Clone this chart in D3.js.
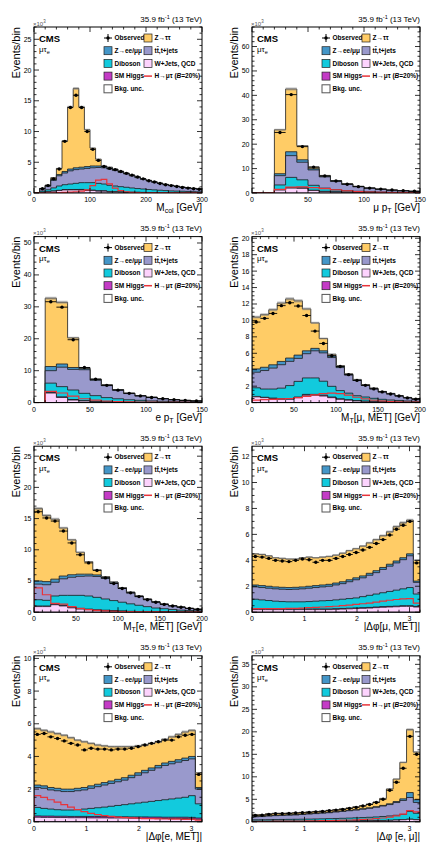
<!DOCTYPE html>
<html>
<head>
<meta charset="utf-8">
<script src="https://cdn.jsdelivr.net/npm/d3@7"></script>
<style>
  body { margin: 0; background: #fff; }
  svg text { font-family: "Liberation Sans", Arial, Helvetica, sans-serif; }
</style>
</head>
<body>
<div id="chart"></div>
<script>

// ---- values in units of 10^3 events / bin ----
// stack order (bottom -> top): W+jets/QCD, SM Higgs, Diboson, tt, Z->ee/mumu, Z->tautau

// M_col, 10 GeV bins 0-300
var mcolWJ  = [0,0.1,0.2,0.3,0.4,0.5,0.5,0.5,0.5,0.4,0.4,0.3,0.3,0.2,0.2,0.15,0.1,0.1,0.1,0.08,0.06,0.05,0.04,0.03,0.03,0.02,0.02,0.02,0.01,0.01];
var mcolH   = [0,0.01,0.02,0.03,0.04,0.05,0.06,0.07,0.08,0.08,0.08,0.07,0.06,0.05,0.04,0.03,0.03,0.02,0.02,0.02,0.01,0.01,0.01,0.01,0.01,0.01,0.01,0.01,0.01,0.01];
var mcolVV  = [0,0.2,0.3,0.5,0.7,0.8,0.9,1.0,1.1,1.2,1.2,1.2,1.1,1.0,0.9,0.85,0.8,0.7,0.6,0.55,0.5,0.45,0.4,0.35,0.3,0.28,0.25,0.22,0.2,0.18];
var mcolTT  = [0,0.34,0.58,1.22,1.66,1.9,2.14,2.23,2.22,2.32,2.42,2.58,2.64,2.65,2.51,2.32,2.17,1.98,1.78,1.57,1.41,1.23,1.1,0.96,0.87,0.75,0.64,0.57,0.51,0.43];
var mcolZll = [0,0.05,0.1,0.15,0.2,0.25,0.3,0.3,0.3,0.3,0.3,0.25,0.2,0.2,0.15,0.15,0.1,0.1,0.1,0.08,0.07,0.06,0.05,0.05,0.04,0.04,0.03,0.03,0.02,0.02];
var mcolZtt = [0,0.05,0.1,0.3,1.0,5.0,10.1,12.9,9.8,6.0,2.9,1.1,0.1,0.1,0.1,0.05,0.02,0,0,0,0,0,0,0,0,0,0,0,0,0];
var mcolObs = [0,0.7,1.2,2.3,3.9,8.4,13.9,15.9,13.9,10.0,7.1,5.3,4.3,4.0,3.8,3.5,3.2,2.9,2.6,2.3,2.0,1.8,1.55,1.35,1.2,1.05,0.9,0.8,0.7,0.6];
var mcolSig = [0,0,0,0.02,0.05,0.1,0.15,0.2,0.3,0.5,1.2,2.1,2.2,1.5,0.8,0.4,0.2,0.1,0.06,0.04,0.03,0.02,0.02,0.01,0.01,0.01,0.01,0.01,0.01,0.01];

// mu pT, 10 GeV bins 0-150
var muptWJ  = [0,0,1.2,2.0,1.9,1.0,0.6,0.4,0.3,0.2,0.15,0.1,0.08,0.06,0.05];
var muptH   = [0,0,0.1,0.2,0.2,0.15,0.1,0.08,0.06,0.05,0.04,0.03,0.02,0.02,0.01];
var muptVV  = [0,0,2.0,4.2,3.3,2.0,1.3,0.9,0.6,0.45,0.35,0.25,0.2,0.15,0.1];
var muptTT  = [0,0,3.8,8.9,7.2,6.3,4.6,3.4,2.6,1.9,1.4,1.1,0.8,0.7,0.5];
var muptZll = [0,0,0.8,1.6,1.0,0.5,0.3,0.2,0.14,0.1,0.06,0.05,0.04,0.03,0.02];
var muptZtt = [0,0,18.0,25.7,5.8,0.7,0.3,0.1,0.05,0.03,0.02,0.02,0.01,0.01,0.01];
var muptObs = [0,0,24.8,40.3,19.0,10.6,7.0,4.9,3.6,2.6,2.0,1.6,1.2,0.9,0.7];
var muptSig = [0,0,1.5,2.4,2.5,2.2,1.8,1.3,0.9,0.6,0.4,0.3,0.2,0.15,0.1];

// e pT, 10 GeV bins 0-150
var eptWJ  = [0,3.0,1.6,0.8,0.5,0.3,0.2,0.15,0.1,0.08,0.06,0.05,0.04,0.03,0.02];
var eptH   = [0,0.2,0.2,0.15,0.1,0.08,0.06,0.05,0.04,0.03,0.02,0.02,0.01,0.01,0.01];
var eptVV  = [0,2.9,3.2,3.0,2.3,1.8,1.3,1.0,0.75,0.6,0.45,0.35,0.25,0.2,0.15];
var eptTT  = [0,3.9,6.1,6.45,7.4,4.8,3.75,2.7,1.95,1.4,1.1,0.8,0.6,0.42,0.3];
var eptZll = [0,1.3,1.0,0.6,0.4,0.3,0.2,0.12,0.08,0.06,0.04,0.03,0.02,0.02,0.01];
var eptZtt = [0,21.4,19.3,9.3,0.3,0.1,0.1,0.05,0.03,0.02,0.02,0.02,0.02,0.02,0.02];
var eptObs = [0,31.6,29.9,19.7,11.0,7.3,5.4,3.9,2.9,2.1,1.6,1.2,0.9,0.7,0.5];
var eptSig = [0,3.5,3.0,2.0,1.2,0.8,0.5,0.35,0.25,0.18,0.12,0.08,0.06,0.04,0.03];

// MT[mu, MET], 10 GeV bins 0-200
var mtmuWJ  = [0.7,0.6,0.5,0.4,0.4,0.6,0.9,0.9,0.8,0.6,0.4,0.3,0.2,0.15,0.1,0.08,0.06,0.05,0.04,0.03];
var mtmuH   = [0.05,0.05,0.05,0.06,0.07,0.08,0.1,0.1,0.1,0.08,0.06,0.05,0.04,0.03,0.02,0.02,0.01,0.01,0.01,0.01];
var mtmuVV  = [1.05,1.0,1.1,1.3,1.6,1.9,2.0,2.0,1.7,1.3,1.0,0.8,0.6,0.5,0.4,0.3,0.25,0.2,0.15,0.12];
var mtmuTT  = [1.9,2.25,2.55,2.85,2.95,2.8,2.95,3.3,3.45,3.5,2.8,2.2,1.85,1.4,1.15,0.9,0.75,0.55,0.4,0.28];
var mtmuZll = [0.4,0.4,0.4,0.4,0.4,0.4,0.35,0.3,0.25,0.2,0.15,0.1,0.08,0.06,0.05,0.04,0.03,0.02,0.02,0.01];
var mtmuZtt = [6.3,6.4,6.7,7.1,7.2,6.6,5.1,3.1,1.5,0.2,0.1,0.05,0.05,0.05,0.05,0.02,0.02,0.02,0.01,0.01];
var mtmuObs = [9.8,10.25,10.85,11.8,12.15,11.75,10.6,8.7,7.2,5.7,4.4,3.4,2.7,2.1,1.67,1.3,1.05,0.8,0.57,0.4];
var mtmuSig = [0.3,0.35,0.4,0.45,0.5,0.6,0.75,0.95,1.1,1.15,1.1,0.9,0.65,0.45,0.3,0.2,0.15,0.1,0.07,0.05];

// MT[e, MET], 10 GeV bins 0-200
var mteWJ  = [0.9,0.9,1.2,1.0,0.7,0.5,0.4,0.3,0.25,0.2,0.15,0.1,0.08,0.06,0.05,0.04,0.03,0.02,0.02,0.01];
var mteH   = [0.1,0.1,0.1,0.1,0.1,0.1,0.1,0.08,0.07,0.06,0.05,0.04,0.03,0.03,0.02,0.02,0.01,0.01,0.01,0.01];
var mteVV  = [1.0,0.9,1.3,1.6,1.9,2.1,2.1,2.0,1.8,1.6,1.4,1.2,1.0,0.8,0.6,0.5,0.4,0.3,0.25,0.2];
var mteTT  = [2.5,2.5,2.2,2.65,2.9,3.05,3.2,3.35,3.3,2.8,2.2,1.75,1.4,1.15,0.95,0.7,0.58,0.47,0.32,0.24];
var mteZll = [0.5,0.5,0.5,0.45,0.4,0.35,0.3,0.25,0.2,0.15,0.12,0.1,0.08,0.06,0.05,0.04,0.03,0.02,0.02,0.01];
var mteZtt = [11.6,10.6,9.6,7.7,5.6,3.5,2.0,0.8,0.1,0.02,0.02,0.02,0.02,0.01,0.01,0.01,0.01,0.01,0.01,0.01];
var mteObs = [16.1,15.1,14.6,13.0,11.1,9.2,7.9,6.7,5.5,4.6,3.8,3.1,2.5,2.0,1.6,1.25,1.0,0.8,0.6,0.45];
var mteSig = [3.9,2.8,1.4,1.3,0.9,0.6,0.4,0.3,0.2,0.15,0.1,0.08,0.06,0.05,0.04,0.03,0.02,0.02,0.01,0.01];

// |dphi[mu, MET]|, 25 bins 0-3.2
var dphimuWJ  = [0.2,0.2,0.2,0.2,0.2,0.2,0.2,0.2,0.2,0.2,0.2,0.2,0.22,0.24,0.26,0.28,0.3,0.32,0.35,0.38,0.4,0.42,0.45,0.45,0.4];
var dphimuH   = [0.05,0.05,0.05,0.05,0.05,0.05,0.05,0.05,0.05,0.05,0.05,0.05,0.05,0.05,0.05,0.05,0.05,0.05,0.05,0.05,0.05,0.05,0.05,0.05,0.05];
var dphimuVV  = [0.75,0.7,0.65,0.6,0.57,0.55,0.55,0.55,0.57,0.6,0.63,0.65,0.68,0.71,0.74,0.77,0.85,0.93,1.0,1.07,1.15,1.23,1.3,1.4,0.95];
var dphimuTT  = [0.95,0.95,0.95,0.95,0.95,0.95,0.97,1.0,1.03,1.05,1.07,1.1,1.15,1.2,1.3,1.4,1.45,1.55,1.65,1.8,1.95,2.1,2.25,2.45,0.9];
var dphimuZll = [0.15,0.15,0.15,0.15,0.15,0.15,0.15,0.15,0.15,0.15,0.15,0.15,0.15,0.15,0.15,0.15,0.15,0.15,0.15,0.15,0.15,0.15,0.15,0.15,0.1];
var dphimuZtt = [2.4,2.4,2.35,2.25,2.23,2.2,2.18,2.25,2.25,2.15,2.15,2.15,2.15,2.2,2.25,2.25,2.3,2.35,2.4,2.45,2.5,2.65,2.7,2.6,1.6];
var dphimuObs = [4.3,4.25,4.15,4.0,3.95,3.9,4.0,4.1,4.05,3.85,4.0,4.0,4.15,4.3,4.45,4.6,4.8,5.0,5.3,5.6,5.95,6.4,6.7,7.0,3.8];
var dphimuSig = [0.28,0.28,0.28,0.28,0.28,0.3,0.3,0.32,0.35,0.37,0.4,0.43,0.46,0.5,0.55,0.6,0.65,0.7,0.78,0.85,0.92,0.98,1.03,1.05,0.7];

// |dphi[e, MET]|, 25 bins 0-3.2
var dphieWJ  = [0.28,0.27,0.27,0.26,0.26,0.25,0.25,0.25,0.24,0.24,0.24,0.23,0.23,0.23,0.22,0.22,0.22,0.21,0.21,0.2,0.2,0.2,0.2,0.19,0.15];
var dphieH   = [0.08,0.08,0.08,0.08,0.08,0.08,0.08,0.08,0.08,0.08,0.08,0.08,0.08,0.08,0.08,0.08,0.08,0.08,0.08,0.08,0.08,0.08,0.08,0.08,0.08];
var dphieVV  = [0.52,0.47,0.43,0.40,0.38,0.39,0.41,0.45,0.50,0.54,0.58,0.64,0.69,0.74,0.80,0.85,0.90,0.96,1.01,1.07,1.12,1.17,1.22,1.33,0.87];
var dphieTT  = [1.22,1.23,1.17,1.16,1.13,1.13,1.16,1.17,1.23,1.29,1.35,1.4,1.45,1.5,1.6,1.7,1.8,1.9,2.0,2.1,2.15,2.2,2.25,2.25,0.9];
var dphieZll = [0.15,0.15,0.15,0.15,0.15,0.15,0.15,0.15,0.15,0.15,0.15,0.15,0.15,0.15,0.15,0.15,0.15,0.15,0.15,0.15,0.15,0.15,0.15,0.15,0.1];
var dphieZtt = [3.45,3.4,3.4,3.35,3.3,3.15,2.95,2.8,2.6,2.4,2.25,2.1,2.0,1.9,1.75,1.65,1.55,1.5,1.45,1.45,1.5,1.55,1.6,1.6,0.9];
var dphieObs = [5.35,5.4,5.2,5.1,4.95,4.8,4.7,4.4,4.5,4.45,4.45,4.4,4.45,4.45,4.5,4.6,4.7,4.8,4.9,5.0,5.0,5.2,5.3,5.35,2.9];
var dphieSig = [1.6,1.5,1.35,1.2,1.05,0.9,0.75,0.62,0.52,0.44,0.38,0.33,0.29,0.26,0.24,0.22,0.2,0.19,0.18,0.17,0.16,0.16,0.15,0.15,0.1];

// |dphi[e, mu]|, 25 bins 0-3.2
var dphiemuWJ  = [0.1,0.1,0.1,0.1,0.1,0.1,0.1,0.1,0.1,0.12,0.12,0.13,0.14,0.15,0.16,0.18,0.2,0.22,0.25,0.28,0.32,0.38,0.45,0.55,0.45];
var dphiemuH   = [0.03,0.03,0.03,0.03,0.03,0.03,0.03,0.03,0.03,0.03,0.03,0.03,0.03,0.03,0.03,0.03,0.03,0.03,0.03,0.03,0.03,0.03,0.03,0.03,0.03];
var dphiemuVV  = [0.32,0.33,0.35,0.37,0.39,0.41,0.43,0.45,0.47,0.48,0.51,0.54,0.57,0.60,0.64,0.67,0.71,0.75,0.80,0.87,0.95,1.04,1.17,1.72,1.42];
var dphiemuTT  = [0.67,0.71,0.79,0.87,0.90,0.93,0.96,1.04,1.12,1.19,1.26,1.32,1.43,1.53,1.63,1.72,1.86,1.99,2.15,2.33,2.53,2.83,3.1,3.1,2.4];
var dphiemuZll = [0.08,0.08,0.08,0.08,0.08,0.08,0.08,0.08,0.08,0.08,0.08,0.08,0.08,0.09,0.09,0.1,0.1,0.11,0.12,0.14,0.17,0.22,0.35,1.1,0.6];
var dphiemuZtt = [0.4,0.35,0.45,0.45,0.4,0.4,0.4,0.4,0.4,0.4,0.4,0.45,0.45,0.5,0.55,0.65,0.7,0.85,1.05,1.55,3.3,5.0,8.1,14.0,10.6];
var dphiemuObs = [1.4,1.45,1.65,1.8,1.8,1.85,1.95,2.0,2.1,2.2,2.3,2.45,2.6,2.75,2.95,3.2,3.5,3.85,4.3,5.0,7.0,8.8,11.9,19.0,15.0];
var dphiemuSig = [0.1,0.1,0.12,0.13,0.14,0.15,0.16,0.18,0.2,0.22,0.25,0.28,0.32,0.36,0.4,0.45,0.52,0.6,0.7,0.85,1.05,1.3,1.7,2.5,2.2];

// tick labels
var yTicks25 = [0,5,10,15,20,25];
var yTicks60 = [0,10,20,30,40,50,60];
var yTicks50 = [0,10,20,30,40,50];
var yTicks20 = [0,2,4,6,8,10,12,14,16,18,20];
var yTicks12 = [0,2,4,6,8,10,12];
var yTicks10 = [0,2,4,6,8,10];
var yTicks35 = [0,5,10,15,20,25,30,35];
var xTicks300 = [0,100,200,300];
var xTicks150 = [0,50,100,150];
var xTicks200 = [0,50,100,150,200];
var xTicksPhi = [0,1,2,3];

var layerColors = ["#fcd3fd", "#c43bc6", "#12cadd", "#9999cc", "#4496c8", "#ffcc66"];
var sigColor = "#e8333a";

var fw = 168, fh = 166;

var panels = [
  { id: "mcol", lo: 0, hi: 300, nb: 30, xdom: [0, 300], xt: xTicks300, xminor: 20, ymax: 27, yt: yTicks25, yminor: 1,
    xlabel: [["M"], ["col", "sub"], [" [GeV]"]],
    layers: [mcolWJ, mcolH, mcolVV, mcolTT, mcolZll, mcolZtt], obs: mcolObs, sig: mcolSig },
  { id: "mupt", lo: 0, hi: 150, nb: 15, xdom: [0, 150], xt: xTicks150, xminor: 10, ymax: 68, yt: yTicks60, yminor: 2,
    xlabel: [["μ p"], ["T", "sub"], [" [GeV]"]],
    layers: [muptWJ, muptH, muptVV, muptTT, muptZll, muptZtt], obs: muptObs, sig: muptSig },
  { id: "ept", lo: 0, hi: 150, nb: 15, xdom: [0, 150], xt: xTicks150, xminor: 10, ymax: 52, yt: yTicks50, yminor: 2,
    xlabel: [["e p"], ["T", "sub"], [" [GeV]"]],
    layers: [eptWJ, eptH, eptVV, eptTT, eptZll, eptZtt], obs: eptObs, sig: eptSig },
  { id: "mtmu", lo: 0, hi: 200, nb: 20, xdom: [0, 200], xt: xTicks200, xminor: 10, ymax: 20.2, yt: yTicks20, yminor: 0.5,
    xlabel: [["M"], ["T", "sub"], ["[μ, MET] [GeV]"]],
    layers: [mtmuWJ, mtmuH, mtmuVV, mtmuTT, mtmuZll, mtmuZtt], obs: mtmuObs, sig: mtmuSig },
  { id: "mte", lo: 0, hi: 200, nb: 20, xdom: [0, 200], xt: xTicks200, xminor: 10, ymax: 26.6, yt: yTicks25, yminor: 1,
    xlabel: [["M"], ["T", "sub"], ["[e, MET] [GeV]"]],
    layers: [mteWJ, mteH, mteVV, mteTT, mteZll, mteZtt], obs: mteObs, sig: mteSig },
  { id: "dphimu", lo: 0, hi: 3.2, nb: 25, xdom: [0, 3.2], xt: xTicksPhi, xminor: 0.2, ymax: 12.8, yt: yTicks12, yminor: 0.5,
    xlabel: [["|Δφ[μ, MET]|"]],
    layers: [dphimuWJ, dphimuH, dphimuVV, dphimuTT, dphimuZll, dphimuZtt], obs: dphimuObs, sig: dphimuSig },
  { id: "dphie", lo: 0, hi: 3.2, nb: 25, xdom: [0, 3.2], xt: xTicksPhi, xminor: 0.2, ymax: 10.16, yt: yTicks10, yminor: 0.5,
    xlabel: [["|Δφ[e, MET]|"]],
    layers: [dphieWJ, dphieH, dphieVV, dphieTT, dphieZll, dphieZtt], obs: dphieObs, sig: dphieSig },
  { id: "dphiemu", lo: 0, hi: 3.2, nb: 25, xdom: [0, 3.2], xt: xTicksPhi, xminor: 0.2, ymax: 36.9, yt: yTicks35, yminor: 1,
    xlabel: [["|Δφ [e, μ]|"]],
    layers: [dphiemuWJ, dphiemuH, dphiemuVV, dphiemuTT, dphiemuZll, dphiemuZtt], obs: dphiemuObs, sig: dphiemuSig }
];

var svg = d3.select("#chart").append("svg")
    .attr("width", 429)
    .attr("height", 842);

svg.append("rect").attr("width", 429).attr("height", 842).attr("fill", "#fff");

function stepArea(edges, lo, hi, x, y) {
  var pts = [];
  for (var i = 0; i < hi.length; i++) pts.push([edges[i], lo[i], hi[i]]);
  pts.push([edges[hi.length], lo[hi.length - 1], hi[hi.length - 1]]);
  return d3.area().curve(d3.curveStepAfter)
      .x(function(d) { return x(d[0]); })
      .y0(function(d) { return y(d[1]); })
      .y1(function(d) { return y(d[2]); })(pts);
}

function stepLine(edges, vals, x, y) {
  var pts = [[edges[0], 0]];
  for (var i = 0; i < vals.length; i++) pts.push([edges[i], vals[i]]);
  pts.push([edges[vals.length], vals[vals.length - 1]]);
  pts.push([edges[vals.length], 0]);
  return d3.line().curve(d3.curveStepAfter)
      .x(function(d) { return x(d[0]); })
      .y(function(d) { return y(d[1]); })(pts);
}

function tickRange(lo, hi, step) {
  var out = [];
  for (var v = lo; v <= hi + 1e-9; v += step) out.push(v);
  return out;
}

// text with sub/superscript pieces
function richText(sel, parts, small) {
  var shift = 0;
  parts.forEach(function(p) {
    var t = sel.append("tspan").text(p[0]);
    var want = p[1] == "sub" ? 2.2 : (p[1] == "sup" ? -3 : 0);
    if (want != shift) t.attr("dy", want - shift);
    if (p[1]) t.attr("font-size", small);
    if (p[2]) t.attr("font-style", "italic");
    shift = want;
  });
}

function drawLegend(g) {
  var bx = [70, 110], rowY = function(i) { return 11 + 12.7 * i; };
  var items = [
    { r: 0, c: 0, type: "obs", label: [["Observed"]] },
    { r: 0, c: 1, type: "box", color: layerColors[5], label: [["Z→ττ"]] },
    { r: 1, c: 0, type: "box", color: layerColors[4], label: [["Z→ee/μμ"]] },
    { r: 1, c: 1, type: "box", color: layerColors[3], label: [["tt\u0304,t+jets"]] },
    { r: 2, c: 0, type: "box", color: layerColors[2], label: [["Diboson"]] },
    { r: 2, c: 1, type: "box", color: layerColors[0], label: [["W+Jets, QCD"]] },
    { r: 3, c: 0, type: "box", color: layerColors[1], label: [["SM Higgs"]] },
    { r: 3, c: 1, type: "sig", label: [["H→μτ ("], ["B", null, true], ["=20%)"]] },
    { r: 4, c: 0, type: "unc", label: [["Bkg. unc."]] }
  ];
  items.forEach(function(it) {
    var x = bx[it.c], cy = rowY(it.r);
    if (it.type == "box" || it.type == "unc") {
      g.append("rect")
          .attr("x", x).attr("y", cy - 4)
          .attr("width", 8).attr("height", 8)
          .attr("fill", it.type == "unc" ? "#fff" : it.color)
          .attr("stroke", it.type == "unc" ? "#555" : "#222")
          .attr("stroke-width", it.type == "unc" ? 1 : 0.7);
    } else if (it.type == "obs") {
      g.append("line").attr("x1", x).attr("x2", x + 8).attr("y1", cy).attr("y2", cy).attr("stroke", "#000");
      g.append("line").attr("x1", x + 4).attr("x2", x + 4).attr("y1", cy - 4).attr("y2", cy + 4).attr("stroke", "#000");
      g.append("circle").attr("cx", x + 4).attr("cy", cy).attr("r", 1.7).attr("fill", "#000");
    } else {
      g.append("line").attr("x1", x).attr("x2", x + 8).attr("y1", cy).attr("y2", cy)
          .attr("stroke", sigColor).attr("stroke-width", 1.5);
    }
    var t = g.append("text")
        .attr("x", x + 10.5)
        .attr("y", cy + 2.3)
        .attr("font-size", 6.5)
        .attr("font-weight", "bold");
    richText(t, it.label, 6.5);
  });
}

function drawPanel(p, col, row) {
  var x0 = 34 + col * 218, y0 = 27 + row * 209.6;
  var g = svg.append("g").attr("transform", "translate(" + x0 + "," + y0 + ")");

  var x = d3.scaleLinear().domain(p.xdom).range([0, fw]);
  var y = d3.scaleLinear().domain([0, p.ymax]).range([fh, 0]);

  var bw = (p.hi - p.lo) / p.nb;
  var edges = d3.range(p.nb + 1).map(function(i) { return p.lo + i * bw; });
  var zeros = p.obs.map(function() { return 0; });

  g.append("clipPath").attr("id", "clip-" + p.id)
    .append("rect").attr("width", fw).attr("height", fh);
  var plot = g.append("g").attr("clip-path", "url(#clip-" + p.id + ")");

  // cumulative stack, drawn from the top down like THStack
  var cum = [], run = zeros;
  p.layers.forEach(function(l) {
    run = run.map(function(v, i) { return v + l[i]; });
    cum.push(run);
  });
  for (var k = cum.length - 1; k >= 0; k--) {
    plot.append("path")
        .attr("d", stepArea(edges, zeros, cum[k], x, y))
        .attr("fill", layerColors[k])
        .attr("stroke", "#1a1a1a")
        .attr("stroke-width", 0.8);
  }

  // background uncertainty band
  var total = cum[cum.length - 1];
  plot.append("path")
      .attr("d", stepArea(edges,
        total.map(function(v) { return v * 0.985; }),
        total.map(function(v) { return v * 1.015; }), x, y))
      .attr("fill", "#8a8a8a")
      .attr("fill-opacity", 0.55);

  // signal
  plot.append("path")
      .attr("d", stepLine(edges, p.sig, x, y))
      .attr("fill", "none")
      .attr("stroke", sigColor)
      .attr("stroke-width", 1.2);

  // observed
  p.obs.forEach(function(v, i) {
    if (v <= 0) return;
    plot.append("line")
        .attr("x1", x(edges[i])).attr("x2", x(edges[i + 1]))
        .attr("y1", y(v)).attr("y2", y(v))
        .attr("stroke", "#000").attr("stroke-width", 0.9);
    plot.append("circle")
        .attr("cx", x((edges[i] + edges[i + 1]) / 2))
        .attr("cy", y(v))
        .attr("r", 1.7)
        .attr("fill", "#000");
  });

  // frame
  g.append("rect")
      .attr("width", fw).attr("height", fh)
      .attr("fill", "none").attr("stroke", "#000").attr("stroke-width", 1);

  // ticks on all four sides
  var tk = g.append("g").attr("stroke", "#000").attr("stroke-width", 0.8);
  tickRange(0, p.ymax, p.yminor).forEach(function(v) {
    var len = p.yt.indexOf(+v.toFixed(6)) >= 0 ? 5 : 2.5;
    tk.append("line").attr("x1", 0).attr("x2", len).attr("y1", y(v)).attr("y2", y(v));
    tk.append("line").attr("x1", fw).attr("x2", fw - len).attr("y1", y(v)).attr("y2", y(v));
  });
  tickRange(p.xdom[0], p.xdom[1], p.xminor).forEach(function(v) {
    var len = p.xt.indexOf(+v.toFixed(6)) >= 0 ? 5 : 2.5;
    tk.append("line").attr("x1", x(v)).attr("x2", x(v)).attr("y1", fh).attr("y2", fh - len);
    tk.append("line").attr("x1", x(v)).attr("x2", x(v)).attr("y1", 0).attr("y2", len);
  });

  g.selectAll(".ylab").data(p.yt).enter().append("text")
      .attr("x", -2.5)
      .attr("y", function(d) { return y(d) + 2.5; })
      .attr("text-anchor", "end")
      .attr("font-size", 7)
      .text(function(d) { return d; });

  g.selectAll(".xlab").data(p.xt).enter().append("text")
      .attr("x", function(d) { return x(d); })
      .attr("y", fh + 9)
      .attr("text-anchor", "middle")
      .attr("font-size", 7)
      .text(function(d) { return d; });

  // axis titles
  var xt = g.append("text")
      .attr("x", fw)
      .attr("y", fh + 18)
      .attr("text-anchor", "end")
      .attr("font-size", 10);
  richText(xt, p.xlabel, 7);

  g.append("text")
      .attr("transform", "translate(-14,0) rotate(-90)")
      .attr("text-anchor", "end")
      .attr("font-size", 11)
      .text("Events/bin");

  var ex = g.append("text").attr("x", -1).attr("y", -1.5).attr("font-size", 6).attr("fill", "#555");
  richText(ex, [["×10"], ["3", "sup"]], 4.5);

  var lumi = g.append("text")
      .attr("x", fw)
      .attr("y", -5.5)
      .attr("text-anchor", "end")
      .attr("font-size", 8);
  richText(lumi, [["35.9 fb"], ["-1", "sup"], [" (13 TeV)"]], 5.5);

  g.append("text")
      .attr("x", 5).attr("y", 15)
      .attr("font-size", 9.5)
      .attr("font-weight", "bold")
      .text("CMS");

  var ch = g.append("text").attr("x", 5).attr("y", 24.5).attr("font-size", 8);
  richText(ch, [["μτ"], ["e", "sub"]], 5.5);

  drawLegend(g);
}

panels.forEach(function(p, k) {
  drawPanel(p, k % 2, Math.floor(k / 2));
});

</script>
</body>
</html>
